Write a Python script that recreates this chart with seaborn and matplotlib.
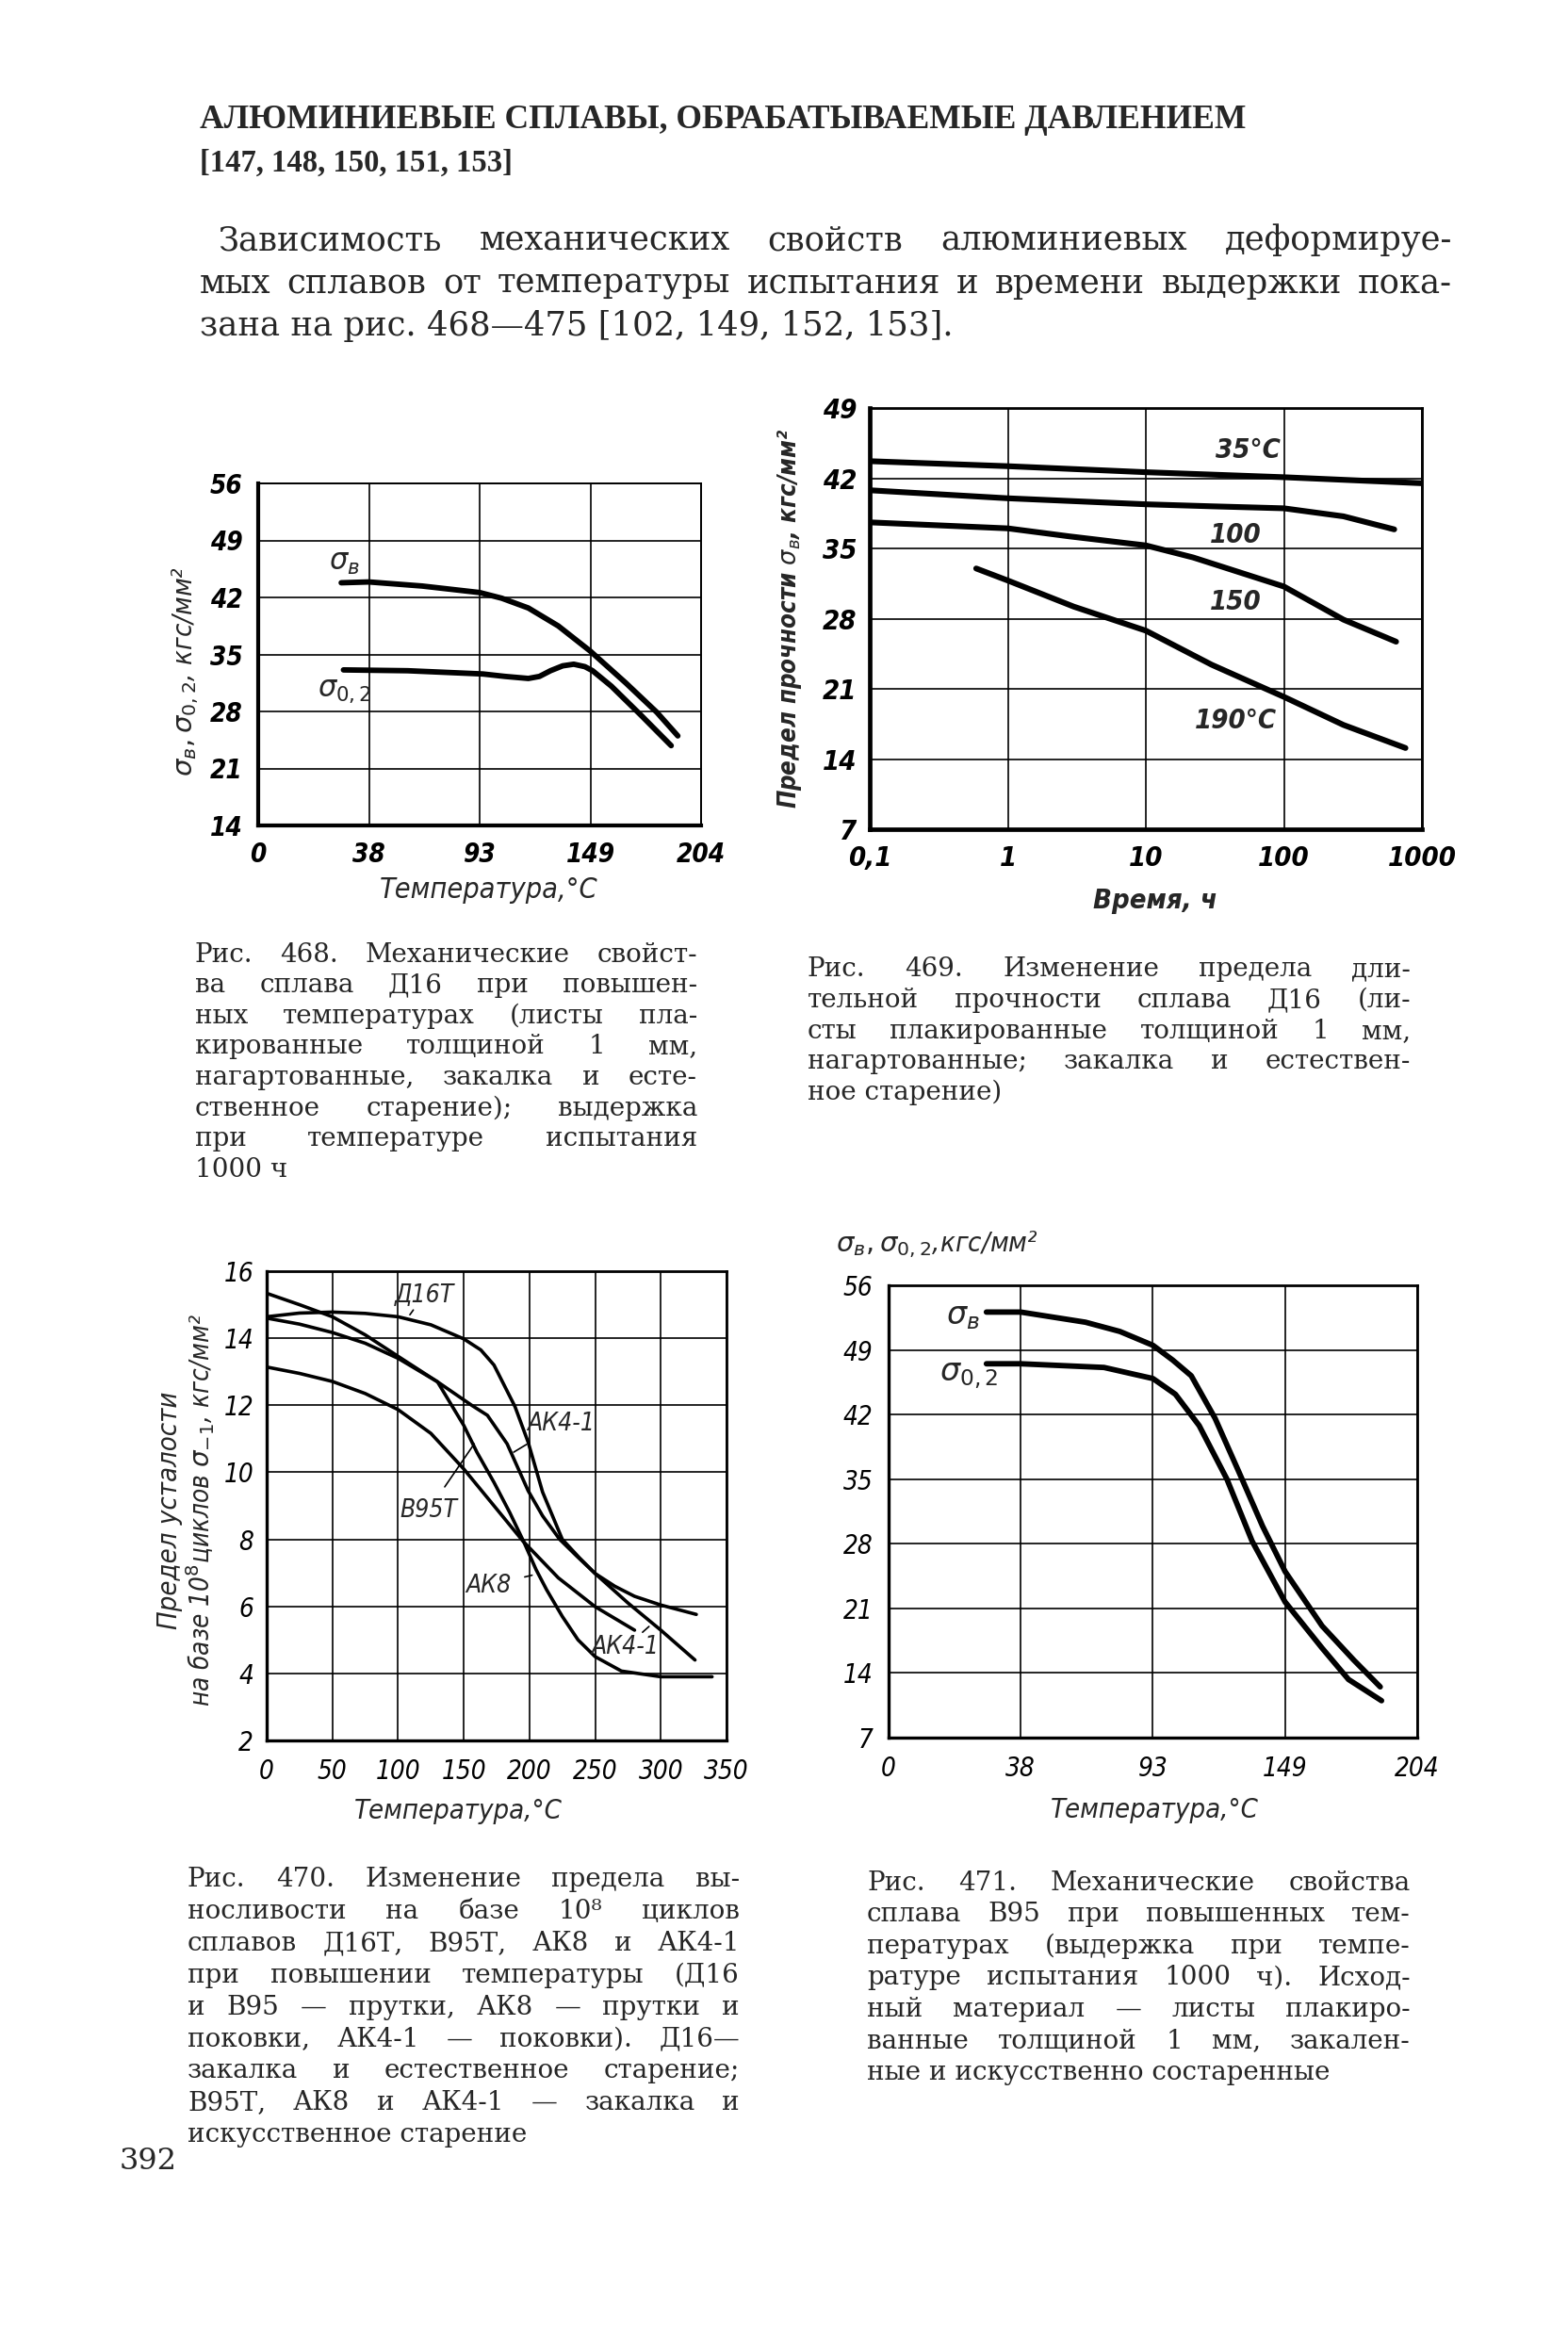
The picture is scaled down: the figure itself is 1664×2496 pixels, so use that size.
import numpy as np
import pandas as pd
import seaborn as sns
import matplotlib.pyplot as plt

# ---- values ----

# fig. 468, D16 sheet: temperature ticks are evenly spaced, x = tick position
temp_labels = ['0', '38', '93', '149', '204']
f468_yticks = [14, 21, 28, 35, 42, 49, 56]
f468_sb_x = [0.75, 1.0, 1.48, 2.0, 2.2, 2.44, 2.71, 3.0, 3.32, 3.6, 3.79]
f468_sb_y = [43.8, 43.9, 43.4, 42.6, 41.9, 40.7, 38.5, 35.4, 31.5, 27.9, 25.0]
f468_s02_x = [0.77, 1.35, 2.03, 2.23, 2.44, 2.54, 2.64, 2.75, 2.85, 2.95, 3.02, 3.19, 3.46, 3.73]
f468_s02_y = [33.1, 33.0, 32.6, 32.3, 32.05, 32.3, 33.0, 33.6, 33.8, 33.5, 33.0, 31.1, 27.5, 23.8]

# fig. 469, long-time strength vs hours
f469_xticks = [0.1, 1, 10, 100, 1000]
f469_xlabels = ['0,1', '1', '10', '100', '1000']
f469_yticks = [7, 14, 21, 28, 35, 42, 49]
t35_x = [0.1, 1, 10, 100, 1000]
t35_y = [43.7, 43.2, 42.6, 42.1, 41.5]
t100_x = [0.1, 1, 10, 30, 100, 270, 630]
t100_y = [40.8, 40.0, 39.4, 39.2, 39.0, 38.2, 36.9]
t150_x = [0.1, 1, 2.8, 10, 22, 100, 270, 650]
t150_y = [37.6, 37.0, 36.2, 35.3, 34.1, 31.2, 27.9, 25.7]
t190_x = [0.59, 1, 3, 10, 30, 100, 270, 760]
t190_y = [33.0, 31.8, 29.2, 26.8, 23.4, 20.2, 17.4, 15.1]

# fig. 470, fatigue limit vs temperature
f470_xticks = [0, 50, 100, 150, 200, 250, 300, 350]
f470_yticks = [2, 4, 6, 8, 10, 12, 14, 16]
d16_x = [0, 25, 50, 75, 100, 125, 150, 163, 173, 189, 199, 210, 225, 238, 250, 265, 280, 300, 327]
d16_y = [14.64, 14.75, 14.78, 14.74, 14.64, 14.4, 13.98, 13.65, 13.2, 11.96, 10.9, 9.41, 8.0, 7.45,
         6.98, 6.6, 6.3, 6.04, 5.76]
ak41_x = [0, 25, 50, 75, 100, 130, 156, 168, 183, 199, 210, 223, 236, 250, 275, 300, 326]
ak41_y = [14.6, 14.42, 14.17, 13.85, 13.4, 12.7, 12.0, 11.7, 10.85, 9.45, 8.7, 8.0, 7.5, 6.98, 6.1,
          5.29, 4.4]
b95_x = [0, 25, 50, 75, 100, 130, 150, 160, 173, 185, 196, 205, 213, 225, 237, 250, 270, 300, 339]
b95_y = [15.34, 15.0, 14.64, 14.1, 13.46, 12.7, 11.4, 10.6, 9.7, 8.8, 7.9, 7.1, 6.5, 5.7, 5.0, 4.5,
         4.07, 3.9, 3.9]
ak8_x = [0, 25, 50, 75, 100, 125, 150, 172, 195, 222, 250, 280]
ak8_y = [13.14, 12.95, 12.71, 12.35, 11.87, 11.16, 10.1, 9.05, 7.95, 6.85, 5.99, 5.29]

# fig. 471, B95 sheet
f471_yticks = [7, 14, 21, 28, 35, 42, 49, 56]
f471_sb_x = [0.74, 1.0, 1.49, 1.75, 2.0, 2.15, 2.29, 2.47, 2.65, 2.83, 3.0, 3.28, 3.52, 3.72]
f471_sb_y = [53.1, 53.1, 52.0, 51.0, 49.5, 47.9, 46.2, 41.6, 35.8, 29.9, 25.0, 19.1, 15.4, 12.5]
f471_s02_x = [0.74, 1.0, 1.63, 2.0, 2.17, 2.35, 2.56, 2.75, 3.0, 3.28, 3.48, 3.73]
f471_s02_y = [47.5, 47.5, 47.1, 45.9, 44.2, 40.8, 35.0, 28.3, 21.7, 16.7, 13.3, 11.0]

# ---- page text ----
title = 'АЛЮМИНИЕВЫЕ СПЛАВЫ, ОБРАБАТЫВАЕМЫЕ ДАВЛЕНИЕМ'
refs = '[147, 148, 150, 151, 153]'
body = ['Зависимость механических свойств алюминиевых  деформируе-',
        'мых сплавов от температуры испытания и времени выдержки пока-',
        'зана на рис. 468—475 [102, 149, 152, 153].']
cap468 = ['Рис. 468. Механические свойст-', 'ва сплава Д16 при повышен-',
          'ных температурах (листы пла-', 'кированные толщиной 1 мм,',
          'нагартованные, закалка и есте-', 'ственное старение); выдержка',
          'при температуре испытания', '1000 ч']
cap469 = ['Рис. 469. Изменение предела дли-', 'тельной прочности сплава Д16 (ли-',
          'сты плакированные толщиной 1 мм,', 'нагартованные; закалка и естествен-',
          'ное старение)']
cap470 = ['Рис. 470. Изменение предела вы-', 'носливости на базе 10⁸ циклов',
          'сплавов Д16Т, В95Т, АК8 и АК4-1', 'при повышении температуры (Д16',
          'и В95 — прутки, АК8 — прутки и', 'поковки, АК4-1 — поковки). Д16—',
          'закалка и естественное старение;', 'В95Т, АК8 и АК4-1 — закалка и',
          'искусственное старение']
cap471 = ['Рис. 471. Механические свойства', 'сплава В95 при повышенных тем-',
          'пературах (выдержка при темпе-', 'ратуре испытания 1000 ч). Исход-',
          'ный материал — листы плакиро-', 'ванные толщиной 1 мм, закален-',
          'ные и искусственно состаренные']

sns.set_theme(style='white')
SERIF = ['DejaVu Serif', 'Liberation Serif']
HEAD = ['Liberation Serif', 'DejaVu Serif']
HAND = ['DejaVu Sans']
plt.rcParams['font.family'] = SERIF
plt.rcParams['mathtext.fontset'] = 'dejavusans'

W, H = 1664, 2496
fig = plt.figure(figsize=(W / 100, H / 100), dpi=100)
fig.patch.set_facecolor('white')
rend = fig.canvas.get_renderer()

hand = dict(family=HAND, style='italic', fontstretch='condensed')


def ptext(x, y, s, **kw):
    return fig.text(x / W, 1 - y / H, s, **kw)


def justify(x0, x1, y, line, last=False, **kw):
    words = line.split()
    if last or len(words) == 1:
        ptext(x0, y, line, va='center', **kw)
        return
    ts = [ptext(x0, y, w, va='center', **kw) for w in words]
    ws = [t.get_window_extent(rend).width for t in ts]
    gap = (x1 - x0 - sum(ws)) / (len(words) - 1)
    x = x0
    for t, w in zip(ts, ws):
        t.set_x(x / W)
        x += w + gap


def fit(x0, x1, y, s, size, **kw):
    t = ptext(x0, y, s, va='center', fontsize=size, **kw)
    w = t.get_window_extent(rend).width
    t.set_fontsize(size * (x1 - x0) / w)


def box(l, t, r, b):
    return fig.add_axes([l / W, 1 - b / H, (r - l) / W, (b - t) / H])


def style(ax, lw_lb, lw_tr, size, weight='normal', padx=12, pady=10):
    for s in ('left', 'bottom'):
        ax.spines[s].set_linewidth(lw_lb)
    for s in ('top', 'right'):
        ax.spines[s].set_linewidth(lw_tr)
    for s in ax.spines.values():
        s.set_color('black')
        s.set_visible(True)
    ax.grid(True, which='major', color='black', lw=1.2)
    ax.tick_params(which='both', length=0, colors='black')
    ax.tick_params(axis='x', pad=padx)
    ax.tick_params(axis='y', pad=pady)
    for lab in ax.get_xticklabels() + ax.get_yticklabels():
        lab.set_family(HAND)
        lab.set_style('italic')
        lab.set_fontstretch('condensed')
        lab.set_fontsize(size)
        lab.set_weight(weight)
    ax.set_xlabel('')
    ax.set_ylabel('')


# ---- header ----
fit(212, 1321, 127, title, 26, family=HEAD, weight='bold')
fit(212, 543, 173, refs, 22, family=HEAD, weight='bold')
justify(231, 1541, 255, body[0], fontsize=25.5)
justify(212, 1541, 301, body[1], fontsize=25.5)
justify(212, 1541, 346, body[2], last=True, fontsize=25.5)

# ---- fig. 468 ----
ax1 = box(274, 513, 744, 876)
sns.lineplot(x=f468_sb_x, y=f468_sb_y, ax=ax1, color='black', lw=4.2)
sns.lineplot(x=f468_s02_x, y=f468_s02_y, ax=ax1, color='black', lw=4.2)
ax1.set_xlim(0, 4)
ax1.set_ylim(14, 56)
ax1.set_xticks(range(5))
ax1.set_xticklabels(temp_labels)
ax1.set_yticks(f468_yticks)
style(ax1, 3.0, 1.4, 20, weight='bold', padx=12, pady=12)
ax1.text(0.78, 46.3, r'$\sigma_в$', fontsize=22, ha='center', va='center')
ax1.text(0.78, 30.6, r'$\sigma_{0,2}$', fontsize=22, ha='center', va='center')
ax1.text(-0.165, 0.45, r'$\sigma_в, \sigma_{0,2}$, кгс/мм²', transform=ax1.transAxes,
         rotation=90, ha='center', va='center', fontsize=21, **hand)
ax1.text(0.52, -0.19, 'Температура,°С', transform=ax1.transAxes, ha='center', va='center',
         fontsize=22, **hand)

# ---- fig. 469 ----
ax2 = box(923, 433, 1509, 880)
for xs, ys in [(t35_x, t35_y), (t100_x, t100_y), (t150_x, t150_y), (t190_x, t190_y)]:
    sns.lineplot(x=xs, y=ys, ax=ax2, color='black', lw=4.4)
ax2.set_xscale('log')
ax2.set_xlim(0.1, 1000)
ax2.set_ylim(7, 49)
ax2.set_xticks(f469_xticks)
ax2.set_xticklabels(f469_xlabels)
ax2.minorticks_off()
ax2.set_yticks(f469_yticks)
style(ax2, 3.4, 2.0, 21, weight='bold', padx=12, pady=10)
for s, xx, yy in [('35°C', 55, 44.8), ('100', 45, 36.3), ('150', 45, 29.6), ('190°C', 45, 17.8)]:
    ax2.text(xx, yy, s, fontsize=21, ha='center', va='center', weight='bold', **hand)
ax2.text(-0.145, 0.5, r'Предел прочности $\sigma_в$, кгс/мм²', transform=ax2.transAxes,
         rotation=90, ha='center', va='center', fontsize=18.5, weight='bold', **hand)
ax2.text(0.517, -0.17, 'Время, ч', transform=ax2.transAxes, ha='center', va='center',
         fontsize=21, weight='bold', **hand)

# ---- fig. 470 ----
ax3 = box(283, 1349, 771, 1847)
for xs, ys in [(d16_x, d16_y), (ak41_x, ak41_y), (b95_x, b95_y), (ak8_x, ak8_y)]:
    sns.lineplot(x=xs, y=ys, ax=ax3, color='black', lw=2.6)
ax3.set_xlim(0, 350)
ax3.set_ylim(2, 16)
ax3.set_xticks(f470_xticks)
ax3.set_yticks(f470_yticks)
style(ax3, 2.4, 2.0, 20, padx=14, pady=10)
for s, tx, ty, lx, ly in [('Д16Т', 120, 15.3, 109, 14.7), ('АК4-1', 224, 11.45, 188, 10.6),
                          ('В95Т', 123, 8.85, 158, 10.85), ('АК8', 169, 6.62, 202, 6.93),
                          ('АК4-1', 273, 4.77, 291, 5.4)]:
    ax3.annotate(s, xy=(lx, ly), xytext=(tx, ty), ha='center', va='center', fontsize=19,
                 arrowprops=dict(arrowstyle='-', color='black', lw=1.2, shrinkA=8, shrinkB=0),
                 **hand)
ax3.text(-0.211, 0.49, 'Предел усталости', transform=ax3.transAxes, rotation=90,
         ha='center', va='center', fontsize=21, **hand)
ax3.text(-0.145, 0.49, r'на базе 10$^8$циклов $\sigma_{-1}$, кгс/мм²', transform=ax3.transAxes,
         rotation=90, ha='center', va='center', fontsize=20, **hand)
ax3.text(0.416, -0.15, 'Температура,°С', transform=ax3.transAxes, ha='center', va='center',
         fontsize=21, **hand)

# ---- fig. 471 ----
ax4 = box(943, 1364, 1504, 1844)
sns.lineplot(x=f471_sb_x, y=f471_sb_y, ax=ax4, color='black', lw=4.2)
sns.lineplot(x=f471_s02_x, y=f471_s02_y, ax=ax4, color='black', lw=4.2)
ax4.set_xlim(0, 4)
ax4.set_ylim(7, 56)
ax4.set_xticks(range(5))
ax4.set_xticklabels(temp_labels)
ax4.set_yticks(f471_yticks)
style(ax4, 2.4, 2.0, 20, padx=14, pady=12)
ax4.text(0.56, 52.6, r'$\sigma_в$', fontsize=24, ha='center', va='center')
ax4.text(0.61, 46.2, r'$\sigma_{0,2}$', fontsize=24, ha='center', va='center')
ax4.text(-0.1, 1.09, r'$\sigma_в,\sigma_{0,2}$,кгс/мм²', transform=ax4.transAxes,
         ha='left', va='center', fontsize=21, **hand)
ax4.text(0.504, -0.16, 'Температура,°С', transform=ax4.transAxes, ha='center', va='center',
         fontsize=21, **hand)

# ---- captions ----
def caption(lines, x0, x1, y0, step):
    for i, ln in enumerate(lines):
        justify(x0, x1, y0 + i * step, ln, last=(i == len(lines) - 1), fontsize=20)

caption(cap468, 207, 740, 1013, 32.6)
caption(cap469, 857, 1497, 1029, 32.6)
caption(cap470, 199, 785, 1995, 33.8)
caption(cap471, 920, 1497, 1998, 33.6)

ptext(127, 2293, '392', va='center', fontsize=23)

fig.savefig('out.png', dpi=100, facecolor='white')
